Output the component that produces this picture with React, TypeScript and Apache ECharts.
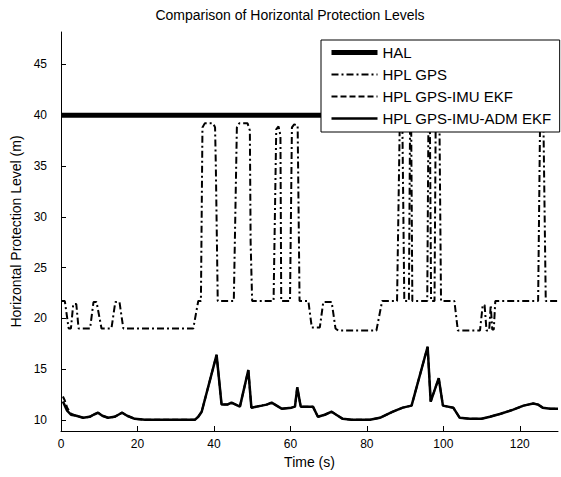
import React, { useEffect, useRef } from "react";
import * as echarts from "echarts";

const TITLE = "Comparison of Horizontal Protection Levels";
const X_NAME = "Time (s)";
const Y_NAME = "Horizontal Protection Level (m)";
const X_TICKS = [0, 20, 40, 60, 80, 100, 120];
const Y_TICKS = [10, 15, 20, 25, 30, 35, 40, 45];

const HAL: number[][] = [
  [0, 40],
  [130, 40],
];

const HPL_GPS: number[][] = [
  [0, 21.7], [1.0, 21.7], [2.0, 19.0], [2.6, 19.0], [3.2, 21.4], [4.0, 21.4], [4.6, 19.0],
  [7.6, 19.0], [8.5, 21.6], [9.3, 21.6], [10.6, 19.0], [13.2, 19.0], [14.2, 21.6], [15.3, 21.6],
  [16.3, 19.0], [34.6, 19.0], [35.9, 21.7], [36.6, 21.7], [37.0, 38.8], [37.6, 39.2],
  [39.8, 39.2], [40.3, 38.8], [40.5, 35.0], [41.0, 21.7], [45.2, 21.7], [46.0, 38.8],
  [46.6, 39.2], [48.8, 39.2], [49.4, 38.5], [49.6, 27.5], [50.0, 21.7], [55.6, 21.7],
  [56.3, 38.6], [56.9, 38.9], [57.4, 38.0], [57.6, 21.7], [59.9, 21.7], [60.4, 38.8],
  [61.0, 39.1], [61.9, 39.0], [62.4, 21.7], [64.7, 21.7], [65.6, 19.1], [67.7, 19.1],
  [68.6, 21.6], [70.8, 21.6], [71.8, 19.0], [72.5, 18.8], [82.5, 18.8], [84.0, 21.7],
  [87.9, 21.7], [88.6, 39.0], [89.3, 39.0], [89.8, 21.7], [91.0, 21.7], [91.3, 39.0],
  [91.6, 39.0], [91.9, 21.7], [95.8, 21.7], [96.1, 39.0], [96.5, 39.0], [96.8, 21.7],
  [97.7, 21.7], [98.0, 39.0], [99.0, 39.0], [99.4, 21.7], [102.9, 21.7], [103.8, 18.8],
  [109.6, 18.8], [110.3, 21.3], [110.8, 21.3], [111.3, 18.8], [112.0, 18.8], [112.4, 21.3],
  [112.8, 18.9], [113.2, 18.9], [113.6, 21.7], [124.8, 21.7], [125.3, 39.0], [126.2, 39.0],
  [126.8, 21.7], [130, 21.7],
];

const HPL_EKF: number[][] = [
  [0.5, 12.3], [1.0, 11.9], [1.6, 11.2], [2.6, 10.6], [4.0, 10.4], [5.8, 10.2], [7.5, 10.3],
  [8.5, 10.5], [9.7, 10.7], [10.8, 10.4], [12.3, 10.2], [14.0, 10.3], [15.0, 10.5],
  [16.0, 10.7], [17.3, 10.4], [19.3, 10.1], [22, 10.0], [35, 10.0], [35.9, 10.3],
  [36.8, 10.8], [40.7, 16.4], [42.0, 11.5], [43.5, 11.5], [44.6, 11.7], [46.8, 11.3],
  [49.0, 14.9], [49.8, 11.2], [52.5, 11.4], [53.8, 11.5], [55.1, 11.7], [57.7, 11.1],
  [60.3, 11.2], [61.2, 11.3], [61.8, 13.2], [62.7, 11.3], [65.9, 11.3], [67.2, 10.3],
  [69.0, 10.5], [70.8, 10.8], [72.0, 10.5], [73.7, 10.1], [76, 10.0], [80.8, 10.0],
  [83.4, 10.2], [86.8, 10.8], [89.4, 11.2], [91.7, 11.4], [95.9, 17.2], [96.7, 11.8],
  [98.8, 14.1], [99.9, 11.4], [102.6, 11.2], [104.3, 10.2], [107, 10.1], [110, 10.1],
  [112.2, 10.3], [115, 10.6], [118.3, 11.0], [121, 11.4], [123.5, 11.6], [124.8, 11.5],
  [126, 11.2], [128, 11.1], [130, 11.1],
];

const HPL_ADM: number[][] = [
  [0.5, 11.8], [1.0, 11.4], [1.6, 10.9], [2.6, 10.5], [4.0, 10.4], [5.8, 10.2], [7.5, 10.3],
  [8.5, 10.5], [9.7, 10.7], [10.8, 10.4], [12.3, 10.2], [14.0, 10.3], [15.0, 10.5],
  [16.0, 10.7], [17.3, 10.4], [19.3, 10.1], [22, 10.0], [35, 10.0], [35.9, 10.3],
  [36.8, 10.8], [40.7, 16.4], [42.0, 11.5], [43.5, 11.5], [44.6, 11.7], [46.8, 11.3],
  [49.0, 14.9], [49.8, 11.2], [52.5, 11.4], [53.8, 11.5], [55.1, 11.7], [57.7, 11.1],
  [60.3, 11.2], [61.2, 11.3], [61.8, 13.2], [62.7, 11.3], [65.9, 11.3], [67.2, 10.3],
  [69.0, 10.5], [70.8, 10.8], [72.0, 10.5], [73.7, 10.1], [76, 10.0], [80.8, 10.0],
  [83.4, 10.2], [86.8, 10.8], [89.4, 11.2], [91.7, 11.4], [95.9, 17.2], [96.7, 11.8],
  [98.8, 14.1], [99.9, 11.4], [102.6, 11.2], [104.3, 10.2], [107, 10.1], [110, 10.1],
  [112.2, 10.3], [115, 10.6], [118.3, 11.0], [121, 11.4], [123.5, 11.6], [124.8, 11.5],
  [126, 11.2], [128, 11.1], [130, 11.1],
];

const FONT = "'Liberation Sans', Arial, Helvetica, sans-serif";

export default function App() {
  const ref = useRef<HTMLDivElement>(null);
  useEffect(() => {
    if (!ref.current) return;
    const chart = echarts.init(ref.current, undefined, { renderer: "svg" });
    const lineSeries = (name: string, data: number[][], width: number, type: any, z: number) => ({
      name,
      type: "line",
      data,
      symbol: "none",
      showSymbol: false,
      z,
      lineStyle: { color: "#000", width, type },
      itemStyle: { color: "#000" },
      emphasis: { disabled: true },
    });
    chart.setOption({
      animation: false,
      backgroundColor: "#fff",
      textStyle: { fontFamily: FONT, color: "#000" },
      graphic: [
        {
          type: "text",
          x: 290,
          y: 8,
          style: {
            text: TITLE,
            align: "center",
            verticalAlign: "top",
            fontSize: 14,
            fontFamily: FONT,
            fill: "#000",
          },
        },
      ],
      legend: {
        orient: "vertical",
        left: 321,
        top: 40,
        padding: [5, 8, 6, 8],
        itemWidth: 46,
        itemHeight: 14,
        itemGap: 7,
        borderColor: "#000",
        borderWidth: 1,
        backgroundColor: "#fff",
        itemStyle: { opacity: 0 },
        lineStyle: { width: "inherit" },
        textStyle: { fontSize: 15, color: "#000", fontFamily: FONT },
        data: ["HAL", "HPL GPS", "HPL GPS-IMU EKF", "HPL GPS-IMU-ADM EKF"],
      },
      grid: { left: 61, right: 3, top: 32, bottom: 46 },
      xAxis: {
        type: "value",
        min: 0,
        max: 130,
        name: X_NAME,
        nameLocation: "middle",
        nameGap: 23,
        nameTextStyle: { fontSize: 14, color: "#000", fontFamily: FONT },
        axisLine: { show: true, lineStyle: { color: "#000", width: 1 } },
        axisTick: { show: true, inside: true, length: 5, customValues: X_TICKS, lineStyle: { color: "#000" } },
        axisLabel: { customValues: X_TICKS, fontSize: 12, color: "#000", margin: 7, fontFamily: FONT },
        splitLine: { show: false },
      },
      yAxis: {
        type: "value",
        min: 8.9,
        max: 48.2,
        name: Y_NAME,
        nameLocation: "middle",
        nameGap: 33,
        nameTextStyle: { fontSize: 14, color: "#000", fontFamily: FONT },
        axisLine: { show: true, lineStyle: { color: "#000", width: 1 } },
        axisTick: { show: true, inside: true, length: 5, customValues: Y_TICKS, lineStyle: { color: "#000" } },
        axisLabel: { customValues: Y_TICKS, fontSize: 12, color: "#000", margin: 14, fontFamily: FONT },
        splitLine: { show: false },
      },
      series: [
        lineSeries("HAL", HAL, 5, "solid", 2),
        lineSeries("HPL GPS", HPL_GPS, 2, [7, 3, 2, 3], 3),
        lineSeries("HPL GPS-IMU EKF", HPL_EKF, 2, [6, 3], 4),
        lineSeries("HPL GPS-IMU-ADM EKF", HPL_ADM, 2.5, "solid", 5),
      ],
    });
    return () => chart.dispose();
  }, []);
  return (
    <div
      ref={ref}
      style={{ position: "fixed", left: 0, top: 0, width: 561, height: 477, background: "#fff" }}
    />
  );
}
